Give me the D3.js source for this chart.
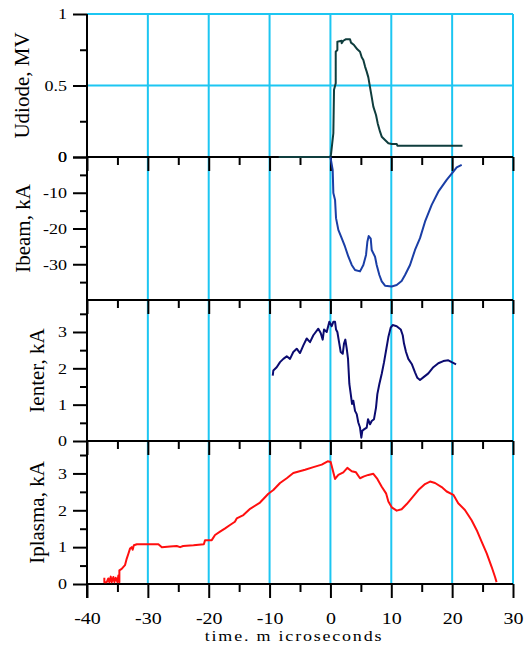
<!DOCTYPE html>
<html>
<head>
<meta charset="utf-8">
<script src="https://cdn.jsdelivr.net/npm/d3@7"></script>
<style>
  body { margin: 0; background: #fff; }
  text { font-family: "Liberation Serif", "Times New Roman", serif; fill: #000; }
</style>
</head>
<body>
<svg id="chart"></svg>
<script>
// time axis
const timeTicks = [-40, -30, -20, -10, 0, 10, 20, 30];
const timeMinor = [-35, -25, -15, -5, 5, 15, 25];
const timeLabels = ["-40", "-30", "-20", "-10", "0", "10", "20", "30"];

// Udiode, MV
const udiodeT = [-8.5, 0, 0.1, 0.48, 0.59, 0.87, 0.87, 1.14, 1.14, 1.85, 1.85, 2.12, 2.5, 3.22, 3.38, 3.88, 4.42, 4.86, 5.14, 5.41,
  5.69, 5.96, 6.23, 6.51, 6.78, 7.05, 7.49, 7.77, 8.15, 8.43, 8.97, 9.52, 10.07, 10.89, 11.0, 21.7];
const udiodeV = [0, 0, 0.02, 0.166, 0.47, 0.515, 0.736, 0.748, 0.806, 0.813, 0.795, 0.813, 0.823, 0.823, 0.80, 0.783, 0.753, 0.736, 0.697, 0.678,
  0.632, 0.597, 0.557, 0.487, 0.42, 0.352, 0.294, 0.235, 0.177, 0.142, 0.119, 0.096, 0.091, 0.091, 0.079, 0.079];

// Ibeam, kA
const ibeamT = [0, 0.37, 0.48, 0.76, 0.92, 1.3, 1.85, 2.4, 2.95, 3.5, 4.04, 4.86, 5.41, 5.85, 6.07, 6.29, 6.62, 6.78, 7.33, 7.6,
  8.04, 8.43, 8.97, 10.07, 10.89, 11.7, 12.26, 13.08, 13.9, 14.72, 15.54, 16.64, 17.73, 19.1, 20.2, 20.75, 21.57];
const ibeamV = [0, -3.6, -10.1, -12, -17.1, -20.4, -22.7, -25.1, -27.9, -30.2, -31.6, -32.0, -30.2, -27.4, -23.7, -22.1, -22.8, -26.0, -27.9, -30.2,
  -33.0, -34.8, -36.0, -36.2, -35.8, -34.7, -33.0, -30.2, -26.0, -22.7, -18.1, -13.4, -9.7, -6.4, -4.1, -2.9, -2.2];

// Ienter, kA
const ienterT = [-9.48, -9.38, -8.83, -8.28, -7.74, -7.18, -6.64, -6.1, -5.54, -5.0, -4.45, -3.9, -3.35, -2.81, -1.99, -1.6, -1.27, -1.05, -0.61, -0.18,
  0.21, 0.48, 0.76, 0.92, 1.14, 1.46, 1.69, 2.02, 2.23, 2.45, 2.68, 2.89, 3.11, 3.34, 3.55, 3.76, 4.04, 4.32, 4.58, 4.86,
  5.08, 5.24, 5.52, 5.96, 6.18, 6.51, 6.78, 7.16, 7.49, 7.71, 8.04, 8.43, 8.81, 9.14, 9.52, 9.9, 10.23, 10.89, 11.55, 11.88,
  12.09, 12.42, 12.8, 13.36, 13.9, 14.28, 14.72, 15.26, 16.09, 16.91, 17.73, 18.55, 19.37, 19.93, 20.64];
const ienterV = [1.80, 1.94, 2.03, 2.17, 2.26, 2.33, 2.26, 2.45, 2.54, 2.42, 2.63, 2.82, 2.72, 2.91, 3.09, 2.97, 2.79, 3.07, 3.0, 3.28,
  3.16, 3.28, 3.28, 3.07, 3.0, 2.68, 2.45, 2.40, 2.68, 2.79, 2.54, 2.26, 1.57, 1.29, 1.02, 1.11, 0.83, 0.74, 0.51, 0.37,
  0.09, 0.28, 0.32, 0.37, 0.60, 0.46, 0.55, 0.60, 0.92, 1.29, 1.57, 1.85, 2.17, 2.49, 2.86, 3.12, 3.19, 3.16, 3.07, 2.91,
  2.68, 2.45, 2.26, 2.12, 1.89, 1.74, 1.68, 1.75, 1.86, 2.03, 2.14, 2.20, 2.22, 2.17, 2.11];

// Iplasma, kA
const iplasmaT = [-37.15, -37.15, -36.76, -36.5, -36.33, -36.1, -35.94, -35.67, -35.5, -35.28, -35.0, -34.85, -34.68, -34.68, -34.3, -33.76, -33.47, -33.2, -32.93, -32.65,
  -32.5, -32.3, -31.8, -28.27, -27.7, -26.36, -25.26, -24.7, -24.2, -22.5, -20.8, -20.6, -19.5, -18.96, -18.14, -17.3, -16.5, -15.7, -15.4, -14.3,
  -13.2, -11.57, -10.2, -9.38, -8.28, -7.18, -6.1, -4.17, -2.8, -1.43, -0.45, 0.04, 0.37, 0.76, 1.3, 2.12, 2.78, 3.5, 4.2, 4.86,
  5.52, 6.23, 7.05, 7.71, 8.43, 9.14, 9.52, 10.07, 10.89, 11.7, 12.54, 13.36, 14.45, 15.54, 16.37, 17.19, 18.28, 19.1, 20.2, 21.0,
  22.1, 23.2, 24.04, 24.86, 25.68, 26.5, 27.05, 27.3];
const iplasmaV = [0.17, 0.05, 0.05, 0.15, 0.05, 0.2, 0.05, 0.19, 0.05, 0.17, 0.05, 0.23, 0.05, 0.37, 0.41, 0.51, 0.69, 0.82, 0.96, 1.0,
  0.93, 1.05, 1.08, 1.08, 1.0, 1.02, 1.03, 1.0, 1.03, 1.05, 1.08, 1.19, 1.19, 1.33, 1.42, 1.51, 1.60, 1.69, 1.78, 1.87,
  2.04, 2.21, 2.45, 2.55, 2.74, 2.87, 3.01, 3.10, 3.17, 3.24, 3.33, 3.31, 3.10, 2.85, 2.96, 3.03, 3.15, 3.06, 3.03, 2.87,
  2.92, 2.96, 2.99, 2.85, 2.64, 2.46, 2.24, 2.08, 1.99, 2.03, 2.17, 2.33, 2.55, 2.71, 2.78, 2.74, 2.63, 2.51, 2.42, 2.19,
  2.01, 1.73, 1.46, 1.14, 0.83, 0.46, 0.19, 0.05];

const W = 525, H = 646;
const left = 87, right = 513;
const grid = "#1cc6f2";

const panels = [
  { title: "Udiode, MV", top: 14, bottom: 157, domain: [0, 1], major: [0, 0.5, 1], labels: ["0", "0.5", "1"],
    minor: [0.25, 0.75], hgrid: [0.5, 1], t: udiodeT, v: udiodeV, color: "#0f3d3d", tx: 29 },
  { title: "Ibeam, kA", top: 157, bottom: 300, domain: [-40, 0], major: [0, -10, -20, -30], labels: ["0", "-10", "-20", "-30"],
    minor: [-5, -15, -25, -35], hgrid: [], t: ibeamT, v: ibeamV, color: "#1a3ea6", tx: 30 },
  { title: "Ienter, kA", top: 300, bottom: 441, domain: [0, 3.88], major: [0, 1, 2, 3], labels: ["0", "1", "2", "3"],
    minor: [0.5, 1.5, 2.5, 3.5], hgrid: [], t: ienterT, v: ienterV, color: "#0b0b70", tx: 44 },
  { title: "Iplasma, kA", top: 441, bottom: 584, domain: [0, 3.88], major: [0, 1, 2, 3], labels: ["0", "1", "2", "3"],
    minor: [0.5, 1.5, 2.5, 3.5], hgrid: [], t: iplasmaT, v: iplasmaV, color: "#ff0f0f", tx: 44 }
];

const svg = d3.select("#chart").attr("width", W).attr("height", H);
const x = d3.scaleLinear().domain([-40, 30]).range([left, right]);

// stretch text a bit horizontally, the original has wide glyphs
function stretch(sel, sx) {
  sel.each(function () {
    const t = d3.select(this);
    const tx = +t.attr("x") || 0, ty = +t.attr("y") || 0;
    t.attr("x", 0).attr("y", 0).attr("transform", `translate(${tx},${ty}) scale(${sx},1)`);
  });
}

// vertical grid
svg.append("g").selectAll("line")
  .data(timeTicks.filter(d => d > -40)).enter()
  .append("line")
  .attr("x1", d => x(d)).attr("x2", d => x(d))
  .attr("y1", panels[0].top).attr("y2", panels[3].bottom)
  .attr("stroke", grid).attr("stroke-width", 2);

panels.forEach((p, i) => {
  p.y = d3.scaleLinear().domain(p.domain).range([p.bottom, p.top]);
  const g = svg.append("g");

  // horizontal grid (only top panel)
  g.selectAll(".hg").data(p.hgrid).enter()
    .append("line")
    .attr("x1", left).attr("x2", right)
    .attr("y1", d => p.y(d)).attr("y2", d => p.y(d))
    .attr("stroke", grid).attr("stroke-width", 2);

  // y ticks
  const yMinor = g.append("g").attr("transform", `translate(${left},0)`)
    .call(d3.axisLeft(p.y).tickValues(p.minor).tickSize(7).tickFormat(""));
  const yMajor = g.append("g").attr("transform", `translate(${left},0)`)
    .call(d3.axisLeft(p.y).tickValues(p.major).tickSize(14).tickPadding(6)
      .tickFormat((d, k) => p.labels[k]));
  [yMinor, yMajor].forEach(a => {
    a.select(".domain").remove();
    a.selectAll("line").attr("stroke", "#000").attr("stroke-width", 2);
  });
  yMajor.selectAll("text").attr("font-size", 15).attr("fill", "#000");
  stretch(yMajor.selectAll("text"), 1.2);

  // x ticks at panel bottom
  const xMinor = g.append("g").attr("transform", `translate(0,${p.bottom})`)
    .call(d3.axisBottom(x).tickValues(timeMinor).tickSize(8).tickFormat(""));
  const xMajor = g.append("g").attr("transform", `translate(0,${p.bottom})`)
    .call(d3.axisBottom(x).tickValues(timeTicks).tickSize(14).tickPadding(15)
      .tickFormat((d, k) => i === 3 ? timeLabels[k] : ""));
  [xMinor, xMajor].forEach(a => {
    a.select(".domain").remove();
    a.selectAll("line").attr("stroke", "#000").attr("stroke-width", 2);
  });
  xMajor.selectAll("text").attr("font-size", 16).attr("fill", "#000");
  stretch(xMajor.selectAll("text"), 1.25);

  // panel bottom axis line
  g.append("line")
    .attr("x1", left).attr("x2", right)
    .attr("y1", p.bottom).attr("y2", p.bottom)
    .attr("stroke", "#000").attr("stroke-width", 2);

  // y title
  g.append("text")
    .attr("transform", `translate(${p.tx},${(p.top + p.bottom) / 2}) rotate(-90)`)
    .attr("text-anchor", "middle")
    .attr("font-size", 21)
    .text(p.title);
});

// left axis line
svg.append("line")
  .attr("x1", left).attr("x2", left)
  .attr("y1", panels[0].top).attr("y2", panels[3].bottom + 14)
  .attr("stroke", "#000").attr("stroke-width", 2);

// data lines
panels.forEach(p => {
  const pts = d3.zip(p.t, p.v);
  svg.append("path")
    .datum(pts)
    .attr("fill", "none")
    .attr("stroke", p.color)
    .attr("stroke-width", 2)
    .attr("stroke-linejoin", "round")
    .attr("d", d3.line().x(d => x(d[0])).y(d => p.y(d[1])));
});

// x title
const xt = svg.append("text")
  .attr("x", 294).attr("y", 641)
  .attr("text-anchor", "middle")
  .attr("font-size", 15)
  .attr("letter-spacing", 1.5)
  .text("time. m icroseconds");
stretch(xt, 1.2);
</script>
</body>
</html>
